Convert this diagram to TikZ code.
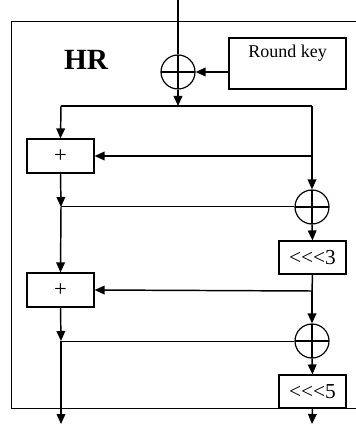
\documentclass[tikz,border=0pt]{standalone}
\usepackage{fontspec}
\setmainfont{Liberation Serif}
\usetikzlibrary{arrows.meta}
\begin{document}
\begin{tikzpicture}[x=0.75pt,y=-0.75pt,
  thickln/.style={line width=1.1pt},
  thinln/.style={line width=0.75pt},
  arr/.style={thickln,-{Triangle[length=7.5pt,width=6.5pt]}},
  xorc/.style={circle,draw,line width=0.9pt,minimum size=25.5pt,inner sep=0pt,
    path picture={\draw[line width=0.9pt] (path picture bounding box.north) -- (path picture bounding box.south)
      (path picture bounding box.west) -- (path picture bounding box.east);}},
  opbox/.style={rectangle,draw,line width=0.9pt,minimum width=50.25pt,minimum height=25.5pt,inner sep=0pt,font=\fontsize{17}{18}\selectfont},
  rotbox/.style={rectangle,draw,line width=0.9pt,minimum width=50.25pt,minimum height=24.75pt,inner sep=0pt,font=\fontsize{16}{18}\selectfont},
  keybox/.style={rectangle,draw,line width=0.9pt,minimum width=87.75pt,minimum height=38.25pt,inner sep=0pt}
]
\useasboundingbox (0,0) rectangle (355,427);
% outer frame
\draw[thinln] (360,22) -- (11,22) -- (11,408) -- (360,408);
\node[font=\bfseries\fontsize{22}{24}\selectfont] (hr) at (86,60) {HR};
% nodes
\node[xorc] (xor1) at (178,72) {};
\node[keybox] (key) at (287.5,63.5) {};
\node[font=\fontsize{13.5}{15}\selectfont] (keytxt) at (287.5,53) {Round key};
\node[opbox] (add1) at (60.5,156) {+};
\node[opbox] (add2) at (60.5,290) {+};
\node[xorc] (xor2) at (312,207) {};
\node[xorc] (xor3) at (312,341) {};
\node[rotbox] (rot3) at (312.5,257.5) {\mbox{<}\mbox{<}\mbox{<}3};
\node[rotbox] (rot5) at (312.5,391.5) {\mbox{<}\mbox{<}\mbox{<}5};
% coordinates
\coordinate (in) at (178,0);
\coordinate (sp) at (178,106);
\coordinate (lt1) at (61,106);
\coordinate (rt1) at (312,106);
\coordinate (r1) at (312,156);
\coordinate (j1) at (61,207);
\coordinate (r2) at (312,291);
\coordinate (j2) at (61,341);
\coordinate (outl) at (61,424);
\coordinate (outr) at (312,424);
% connectors
\draw[thickln] (in) -- (xor1.north);
\draw[arr] (xor1.south) -- (sp);
\draw[arr] (key.west |- xor1.east) -- (xor1.east);
\draw[thickln] (lt1) -- (rt1);
\draw[arr] (lt1) -- (add1.north);
\draw[thickln] (rt1) -- (r1);
\draw[arr] (r1) -- (add1.east);
\draw[arr] (r1) -- (xor2.north);
\draw[arr] (add1.south) -- (j1);
\draw[thinln] (j1) -- (xor2.west);
\draw[arr] (j1) -- (add2.north);
\draw[arr] (xor2.south) -- (rot3.north);
\draw[thickln] (rot3.south) -- (r2);
\draw[arr] (r2) -- (add2.east);
\draw[arr] (r2) -- (xor3.north);
\draw[arr] (add2.south) -- (j2);
\draw[thinln] (j2) -- (xor3.west);
\draw[arr] (j2) -- (outl);
\draw[arr] (xor3.south) -- (rot5.north);
\draw[arr] (rot5.south) -- (outr);
\end{tikzpicture}
\end{document}
